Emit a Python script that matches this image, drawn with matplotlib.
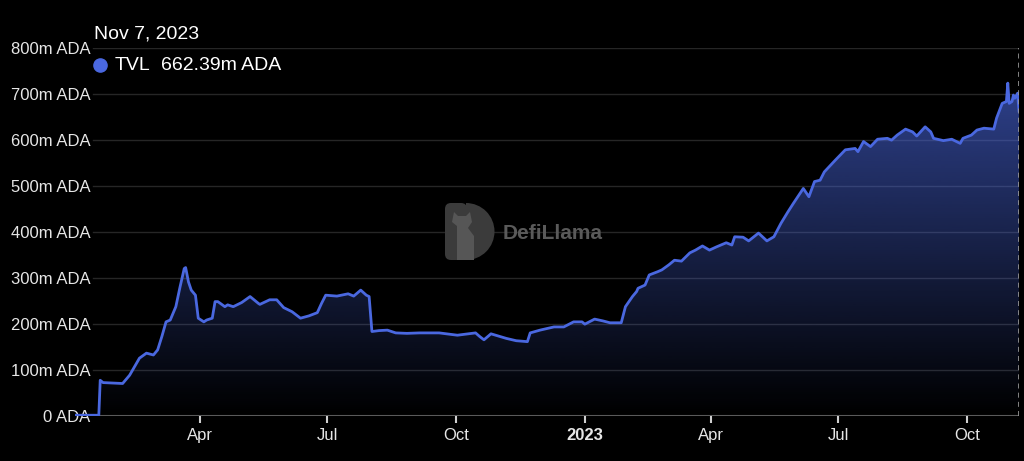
import numpy as np
import pandas as pd
import matplotlib.pyplot as plt
import matplotlib.dates as mdates
from matplotlib.patches import Wedge, FancyBboxPatch, Polygon

# TVL on Cardano, in millions of ADA
dates = [
    '2022-01-02', '2022-01-19', '2022-01-20', '2022-01-22', '2022-02-05', '2022-02-10',
    '2022-02-17', '2022-02-22', '2022-02-27', '2022-03-02', '2022-03-05', '2022-03-08',
    '2022-03-11', '2022-03-15', '2022-03-18', '2022-03-21', '2022-03-22', '2022-03-24',
    '2022-03-26', '2022-03-29', '2022-03-31', '2022-04-04', '2022-04-06', '2022-04-10',
    '2022-04-12', '2022-04-14', '2022-04-19', '2022-04-21', '2022-04-25', '2022-05-01',
    '2022-05-07', '2022-05-13', '2022-05-14', '2022-05-21', '2022-05-26', '2022-05-31',
    '2022-06-06', '2022-06-12', '2022-06-18', '2022-06-24', '2022-06-27', '2022-06-30',
    '2022-07-08', '2022-07-16', '2022-07-20', '2022-07-25', '2022-07-29', '2022-07-31',
    '2022-08-02', '2022-08-07', '2022-08-13', '2022-08-19', '2022-08-27', '2022-09-05',
    '2022-09-19', '2022-10-02', '2022-10-15', '2022-10-18', '2022-10-21', '2022-10-26',
    '2022-11-06', '2022-11-13', '2022-11-21', '2022-11-23', '2022-11-30', '2022-12-10',
    '2022-12-17', '2022-12-24', '2022-12-30', '2023-01-01', '2023-01-08', '2023-01-14',
    '2023-01-19', '2023-01-27', '2023-01-30', '2023-02-04', '2023-02-07', '2023-02-08',
    '2023-02-13', '2023-02-16', '2023-02-22', '2023-02-25', '2023-03-02', '2023-03-06',
    '2023-03-11', '2023-03-17', '2023-03-21', '2023-03-26', '2023-03-31', '2023-04-05',
    '2023-04-12', '2023-04-16', '2023-04-18', '2023-04-24', '2023-04-28', '2023-05-05',
    '2023-05-11', '2023-05-16', '2023-05-21', '2023-05-26', '2023-05-30', '2023-06-06',
    '2023-06-10', '2023-06-14', '2023-06-18', '2023-06-21', '2023-06-29', '2023-07-06',
    '2023-07-13', '2023-07-15', '2023-07-19', '2023-07-24', '2023-07-29', '2023-08-05',
    '2023-08-08', '2023-08-12', '2023-08-18', '2023-08-23', '2023-08-26', '2023-09-01',
    '2023-09-05', '2023-09-07', '2023-09-14', '2023-09-20', '2023-09-26', '2023-09-28',
    '2023-10-04', '2023-10-08', '2023-10-13', '2023-10-20', '2023-10-22', '2023-10-26',
    '2023-10-29', '2023-10-30', '2023-10-31', '2023-11-02', '2023-11-03', '2023-11-04',
    '2023-11-06', '2023-11-07',
]
tvl = [
    1, 1, 77, 72, 70, 88,
    125, 136, 132, 143, 172, 204,
    208, 237, 280, 320, 322, 291,
    273, 262, 212, 204, 208, 212,
    248, 248, 237, 241, 237, 246,
    259, 244, 242, 252, 252, 235,
    226, 212, 217, 224, 244, 262,
    260, 265, 260, 273, 262, 259,
    183, 185, 186, 180, 179, 180,
    180, 175, 180, 172, 165, 178,
    168, 163, 161, 180, 186, 193,
    193, 204, 204, 199, 210, 206,
    202, 202, 237, 259, 270, 277,
    284, 306, 313, 317, 328, 338,
    336, 354, 360, 369, 360, 367,
    376, 371, 389, 388, 380, 397,
    380, 389, 418, 443, 462, 494,
    476, 509, 512, 530, 556, 578,
    581, 574, 596, 585, 601, 603,
    599, 610, 623, 617, 608, 628,
    617, 603, 598, 601, 592, 603,
    610, 621, 625, 623, 647, 679,
    683, 723, 679, 683, 697, 690,
    701, 662.39,
]

y_ticks = [0, 100, 200, 300, 400, 500, 600, 700, 800]
y_labels = ['0 ADA'] + [f'{v}m ADA' for v in y_ticks[1:]]
x_ticks = ['2022-04-01', '2022-07-01', '2022-10-01', '2023-01-01',
           '2023-04-01', '2023-07-01', '2023-10-01']
x_labels = ['Apr', 'Jul', 'Oct', '2023', 'Apr', 'Jul', 'Oct']

line_color = '#4a68e0'
text_color = '#e6e6e6'

plt.rcParams['font.family'] = ['Liberation Sans', 'DejaVu Sans']

W, H = 1024, 461
fig = plt.figure(figsize=(W / 100, H / 100), dpi=100, facecolor='black')
ax = fig.add_axes([75 / W, 45.3 / H, 944 / W, 368 / H])
ax.set_facecolor('black')

x = mdates.date2num(pd.to_datetime(dates))
y = np.array(tvl)

# gradient fill under the line
fill = ax.fill_between(x, y, 0, color='none', lw=0)
grad = np.zeros((256, 1, 4))
grad[..., :3] = np.array([74, 104, 224]) / 255
grad[:, 0, 3] = np.linspace(0.62, 0.0, 256)
im = ax.imshow(grad, extent=[x[0], x[-1], 0, y.max()], aspect='auto',
               origin='upper', zorder=1)
im.set_clip_path(fill.get_paths()[0], transform=ax.transData)

ax.plot(x, y, color=line_color, lw=2.0, zorder=3, solid_joinstyle='round')

# grid lines start right of the labels
gx0 = 18 / 944
for v in y_ticks[1:]:
    ax.axhline(v, xmin=gx0, xmax=1, color='#262626', lw=1, zorder=0)
ax.axhline(0, xmin=15 / 944, xmax=1, color='#5a5a5a', lw=1.5, zorder=2)
ax.axvline(x[-1], color='#9a9a9a', lw=1.2, ls=(0, (3, 2.5)), zorder=4)

ax.set_xlim(x[0], x[-1])
ax.set_ylim(0, 800)

for s in ax.spines.values():
    s.set_visible(False)

ax.set_yticks(y_ticks)
ax.set_yticklabels(y_labels)
ax.tick_params(axis='y', length=0, pad=-11, labelsize=12, labelcolor=text_color)

ax.set_xticks(mdates.date2num(pd.to_datetime(x_ticks)))
ax.set_xticklabels(x_labels)
ax.tick_params(axis='x', length=5, width=1.5, color='#cfcfcf', pad=4,
               labelsize=12, labelcolor=text_color)
for lbl in ax.get_xticklabels():
    if lbl.get_text() == '2023':
        lbl.set_fontweight('bold')

# overlay in pixel coordinates for header and watermark
ov = fig.add_axes([0, 0, 1, 1], zorder=5)
ov.set_xlim(0, W)
ov.set_ylim(H, 0)
ov.axis('off')
ov.patch.set_alpha(0)

ov.text(94, 34, 'Nov 7, 2023', fontsize=14, color='white', va='center', ha='left')
ov.plot([100], [65], 'o', ms=9.5, color=line_color)
ov.text(115, 66, 'TVL', fontsize=14, color='white', va='center', ha='left')
ov.text(161, 66, f'{tvl[-1]:.2f}m ADA', fontsize=14, color='white',
        va='center', ha='left')

# DefiLlama watermark
wm = '#3b3b3b'
ov.add_patch(FancyBboxPatch((445, 203), 22, 57, boxstyle='round,pad=0,rounding_size=6',
                            fc=wm, ec='none'))
ov.add_patch(Wedge((466, 231.5), 28.5, -90, 90, fc=wm, ec='none'))
ov.add_patch(Polygon([(457, 260), (457, 226), (452, 222), (454, 212), (458, 216),
                      (466, 216), (470, 212), (472, 222), (468, 228), (474, 236),
                      (474, 260)], closed=True, fc='#565656', ec='none'))
ov.text(503, 233, 'DefiLlama', fontsize=15, fontweight='bold', color='#5a5a5a',
        va='center', ha='left')

fig.savefig('out.png', dpi=100, facecolor='black')
